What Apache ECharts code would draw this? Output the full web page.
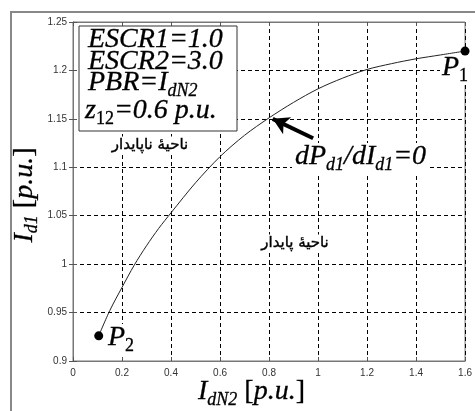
<!DOCTYPE html>
<html>
<head>
<meta charset="utf-8">
<script src="https://cdn.jsdelivr.net/npm/echarts@6/dist/echarts.min.js"></script>
<style>
  html, body { margin: 0; padding: 0; background: #fff; }
  #chart { width: 475px; height: 411px; }
</style>
</head>
<body>
<div id="chart"></div>
<script>
// curve Id1 vs IdN2
var curveX = [0.105, 0.15, 0.2, 0.25, 0.3, 0.35, 0.4, 0.5, 0.6, 0.7, 0.8, 0.9, 1.0, 1.1, 1.2, 1.3, 1.4, 1.5, 1.6];
var curveY = [0.926, 0.952, 0.976, 0.999, 1.019, 1.037, 1.053, 1.084, 1.111, 1.133, 1.151, 1.167, 1.181, 1.192, 1.201, 1.207, 1.212, 1.216, 1.220];

// end points P2, P1
var pointX = [0.105, 1.6];
var pointY = [0.926, 1.22];

// arrow towards dPd1/dId1 = 0
var arrowFrom = [0.98, 1.13];
var arrowTo = [0.815, 1.15];

var xMin = 0, xMax = 1.6, xStep = 0.2;
var yMin = 0.9, yMax = 1.25, yStep = 0.05;

var serif = 'Liberation Serif';
var ink = { fill: '#000', stroke: '#000', lineWidth: 0.3 };
var rich = {
  m: Object.assign({ fontFamily: serif, fontStyle: 'italic', fontSize: 28, verticalAlign: 'top' }, ink),
  n: Object.assign({ fontFamily: serif, fontSize: 28, verticalAlign: 'top' }, ink),
  s: Object.assign({ fontFamily: serif, fontStyle: 'italic', fontSize: 18, verticalAlign: 'bottom', lineHeight: 31 }, ink),
  u: Object.assign({ fontFamily: serif, fontSize: 18, verticalAlign: 'bottom', lineHeight: 31 }, ink)
};

function txt(x, y, text, bg) {
  var st = { text: text, rich: rich, align: 'left', verticalAlign: 'top' };
  if (bg) { st.backgroundColor = '#fff'; st.padding = bg; }
  return { type: 'text', x: x, y: y, z: 10, style: st };
}

function farsi(x, y, text) {
  return { type: 'text', x: x, y: y, z: 10,
    style: { text: text, font: '15px "DejaVu Sans"', fill: '#000', stroke: '#000', lineWidth: 0.4,
      align: 'center', verticalAlign: 'middle', backgroundColor: '#fff', padding: [1, 2] } };
}

var data = curveX.map(function (x, i) { return [x, curveY[i]]; });
var pts = pointX.map(function (x, i) { return [x, pointY[i]]; });

var dashed = { color: '#000', width: 1, type: [4, 3] };
var tick = { inside: true, length: 4, lineStyle: { color: '#555' } };

var chart = echarts.init(document.getElementById('chart'));
chart.setOption({
  backgroundColor: '#fff',
  animation: false,
  grid: { left: 73, right: 3, top: 22, bottom: 50, show: true, borderColor: '#777', borderWidth: 1 },
  xAxis: [{
    type: 'value', min: xMin, max: xMax, interval: xStep,
    axisLine: { lineStyle: { color: '#777' } },
    axisTick: tick,
    axisLabel: { color: '#333', fontFamily: 'Liberation Sans', fontSize: 10, margin: 7 },
    splitLine: { lineStyle: dashed }
  }, {
    type: 'value', position: 'top', min: xMin, max: xMax, interval: xStep,
    axisLine: { lineStyle: { color: '#777' } },
    axisTick: tick,
    axisLabel: { show: false }, splitLine: { show: false }
  }],
  yAxis: [{
    type: 'value', min: yMin, max: yMax, interval: yStep,
    axisLine: { lineStyle: { color: '#777' } },
    axisTick: tick,
    axisLabel: { color: '#333', fontFamily: 'Liberation Sans', fontSize: 10, margin: 6 },
    splitLine: { lineStyle: dashed }
  }, {
    type: 'value', position: 'right', min: yMin, max: yMax, interval: yStep,
    axisLine: { lineStyle: { color: '#777' } },
    axisTick: tick,
    axisLabel: { show: false }, splitLine: { show: false }
  }],
  series: [{
    type: 'line', data: data, smooth: 0.3, showSymbol: false, symbol: 'none', z: 20,
    lineStyle: { color: '#222', width: 1 },
    markLine: {
      silent: true, symbol: ['none', 'arrow'], symbolSize: [14, 16],
      label: { show: false },
      lineStyle: { color: '#000', width: 4, type: 'solid' },
      data: [[{ coord: arrowFrom }, { coord: arrowTo }]]
    }
  }, {
    type: 'scatter', data: pts, symbolSize: 9, clip: false, z: 20,
    itemStyle: { color: '#000', opacity: 1 }
  }],
  graphic: [
    { type: 'rect', z: -1, shape: { x: 11, y: 12, width: 520, height: 520 },
      style: { fill: 'none', stroke: '#888', lineWidth: 2 } },
    { type: 'rect', z: 5, shape: { x: 79, y: 26, width: 158, height: 105 },
      style: { fill: '#fff', stroke: '#333', lineWidth: 1 } },
    txt(88, 26, '{m|ESCR1=1.0}'),
    txt(88, 48, '{m|ESCR2=3.0}'),
    txt(88, 69, '{m|PBR=I}{s|dN2}'),
    txt(85, 97, '{m|z}{u|12}{m|=0.6 p.u.}'),
    txt(292, 143, '{m|dP}{s|d1}{m|/dI}{s|d1}{m|=0}', [0, 3, 0, 3]),
    txt(440, 54, '{m|P}{u|1}', [0, 2, 0, 2]),
    txt(106, 324, '{m|P}{u|2}', [0, 2, 0, 2]),
    txt(198, 378, '{m|I}{s|dN2}{n| [}{m|p.u.}{n|]}'),
    { type: 'text', x: 26, y: 195, z: 10, rotation: Math.PI / 2,
      style: { text: '{m|I}{s|d1}{n| [}{m|p.u.}{n|]}', rich: rich, align: 'center', verticalAlign: 'middle' } },
    farsi(150, 145, 'ناحیهٔ ناپایدار'),
    farsi(295, 243, 'ناحیهٔ پایدار')
  ]
});
</script>
</body>
</html>
